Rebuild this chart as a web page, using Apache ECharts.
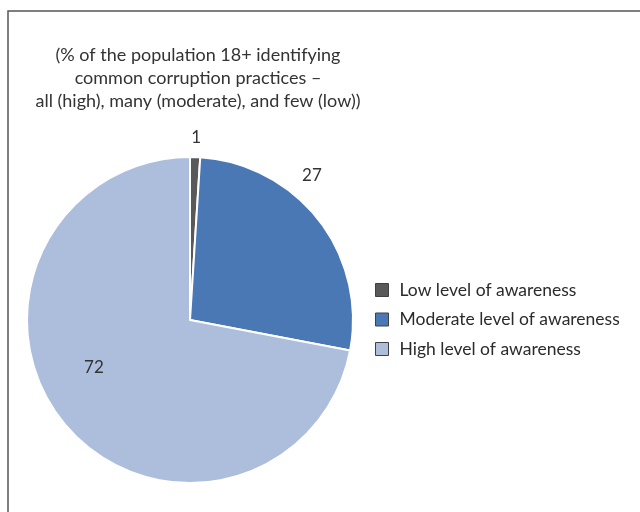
<!DOCTYPE html>
<html>
<head>
<meta charset="utf-8">
<script src="https://cdn.jsdelivr.net/npm/echarts@6/dist/echarts.min.js"></script>
<style>
  html, body { margin: 0; padding: 0; background: #fff; }
  #chart { width: 640px; height: 512px; }
</style>
</head>
<body>
<div id="chart"></div>
<script>
// Awareness of corruption practices, share of population 18+
const categories = ['Low level of awareness', 'Moderate level of awareness', 'High level of awareness'];
const shares = [1, 27, 72];
const sliceColors = ['#595959', '#4a78b4', '#adbddc'];
const titleLines = [
  '(% of the population 18+ identifying',
  'common corruption practices \u2013',
  'all (high), many (moderate), and few (low))'
];

// label placement per slice (outside for the small ones, inside for the big one)
const labelPlacement = [
  { position: 'outside', offset: [-9, -12] },
  { position: 'outside', offset: [-28, -40] },
  { position: 'inside', offset: [-31, -6] }
];

const FONT = 'Lato';

const chart = echarts.init(document.getElementById('chart'), null, { renderer: 'canvas' });

chart.setOption({
  backgroundColor: '#ffffff',
  animation: false,
  graphic: [{
    type: 'rect',
    shape: { x: 8, y: 11, width: 700, height: 600 },
    style: { fill: 'none', stroke: '#555555', lineWidth: 1.5 },
    silent: true
  }],
  title: {
    text: titleLines.join('\n'),
    left: 193,
    top: 39,
    textAlign: 'center',
    textStyle: {
      fontFamily: FONT,
      fontSize: 18,
      fontWeight: 'normal',
      color: '#333333',
      lineHeight: 23
    }
  },
  legend: {
    orient: 'vertical',
    left: 370,
    top: 276,
    itemWidth: 13,
    itemHeight: 13,
    itemGap: 11.5,
    icon: 'rect',
    data: categories,
    itemStyle: { borderColor: '#404040', borderWidth: 1 },
    textStyle: { fontFamily: FONT, fontSize: 17.5, color: '#2b2b2b', padding: [0, 0, 0, 6] }
  },
  series: [{
    type: 'pie',
    center: [190, 320],
    radius: 163,
    startAngle: 90,
    clockwise: true,
    avoidLabelOverlap: false,
    itemStyle: { borderColor: '#ffffff', borderWidth: 2 },
    labelLine: { show: false, length: 8, length2: 0 },
    label: {
      formatter: '{c}',
      fontFamily: FONT,
      fontSize: 17,
      color: '#333333'
    },
    emphasis: { disabled: true },
    data: categories.map((name, i) => ({
      name,
      value: shares[i],
      itemStyle: { color: sliceColors[i] },
      label: labelPlacement[i]
    }))
  }]
});
</script>
</body>
</html>
